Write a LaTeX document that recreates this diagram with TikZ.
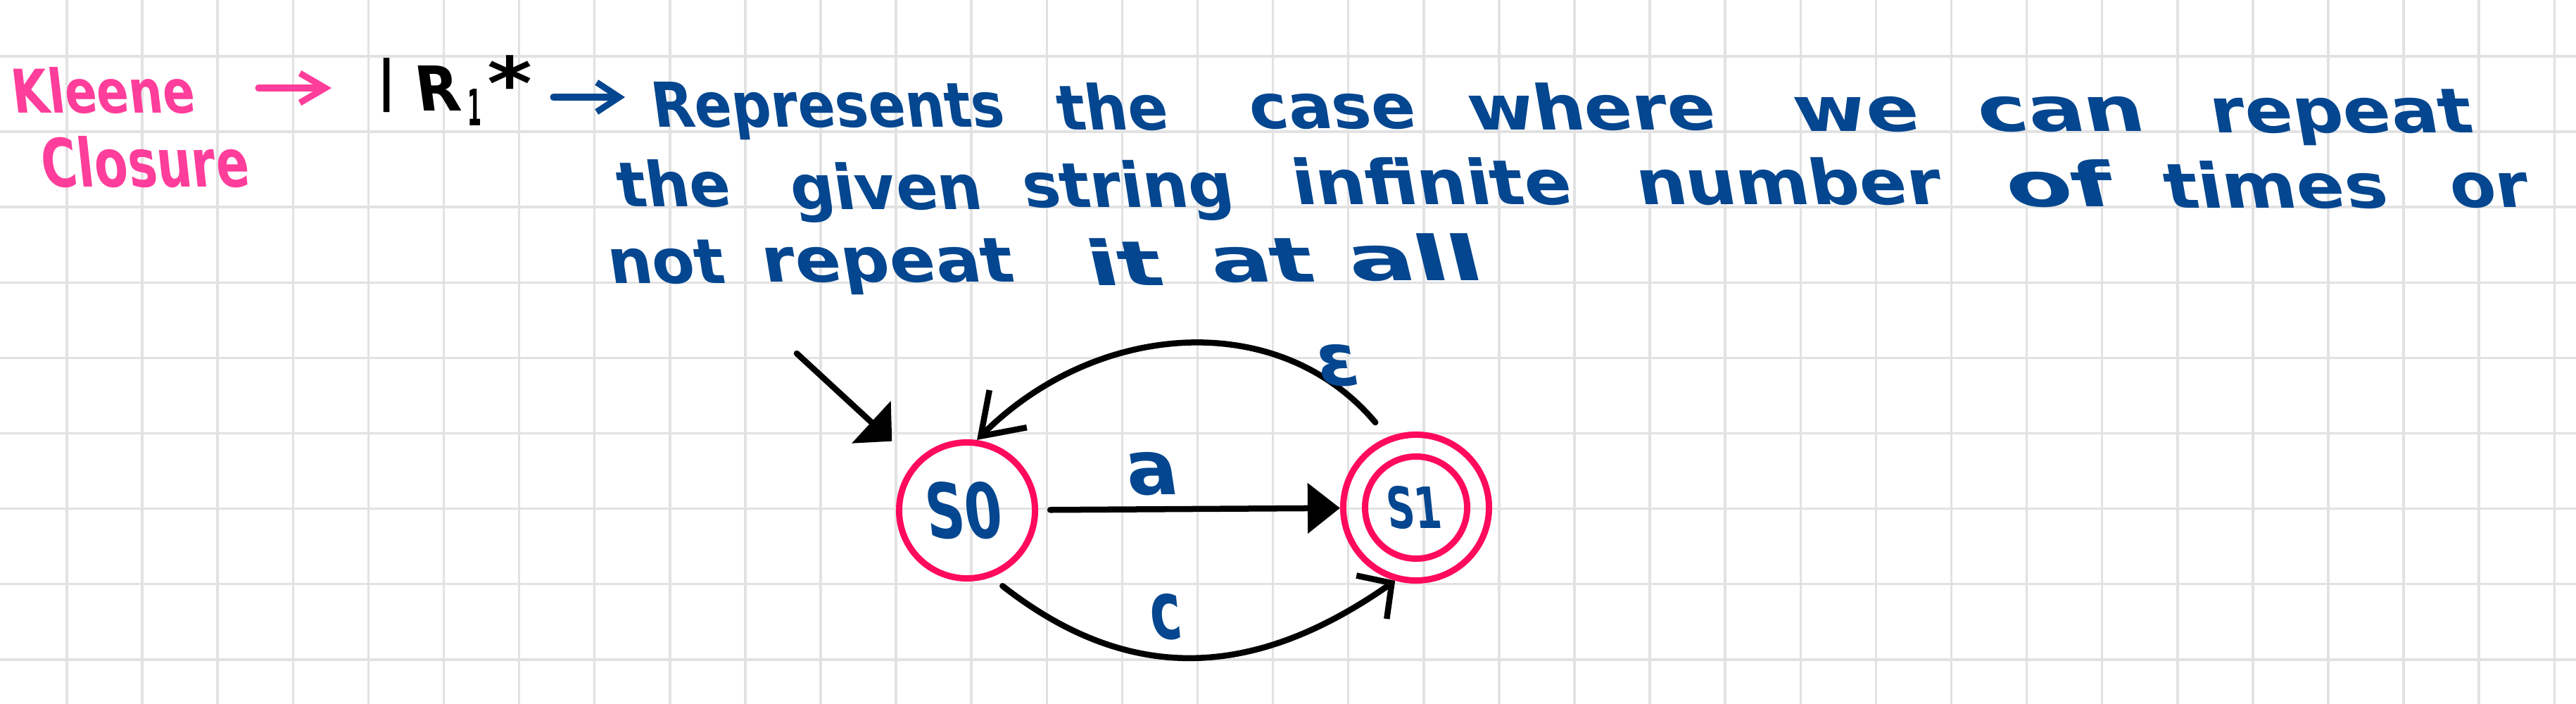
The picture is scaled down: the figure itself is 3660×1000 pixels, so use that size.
\documentclass[tikz,border=0pt]{standalone}
\usepackage{fontspec}
\usepackage{graphicx}
\usetikzlibrary{arrows.meta}
\newfontfamily\hand{DejaVu Sans}[FakeSlant=-0.15]
\newfontfamily\handup{DejaVu Sans}
\definecolor{gridC}{RGB}{226,226,226}
\definecolor{blueC}{RGB}{4,70,143}
\definecolor{pinkC}{RGB}{255,61,155}
\definecolor{stateC}{RGB}{255,10,92}
\newcommand{\fw}[2]{\resizebox{#1}{\height}{#2}}
\tikzset{
  gridline/.style={draw=gridC, line width=0.035cm},
  hand/.style={inner sep=0pt, outer sep=0pt, font=\hand\bfseries\fontsize{25}{30}\selectfont},
  handupright/.style={inner sep=0pt, outer sep=0pt, font=\handup\bfseries\fontsize{25}{30}\selectfont},
  bluetext/.style={hand, text=blueC},
  pinktext/.style={hand, text=pinkC},
  blacktext/.style={hand, text=black},
  edge/.style={draw=black, line width=0.085cm, line cap=round, line join=round},
  state/.style={circle, draw=stateC, line width=0.09cm, inner sep=0pt},
  pen/.style={line width=0.09cm, line cap=round, line join=round},
}
\begin{document}
\begin{tikzpicture}[x=0.01cm,y=0.01cm]
\useasboundingbox (0,0) rectangle (3660,-1000);
\fill[white] (0,0) rectangle (3660,-1000);
% grid
\foreach \i in {0,...,33} \draw[gridline] ({95+107.1*\i},0) -- ({95+107.1*\i},-1000);
\foreach \i in {0,...,8} \draw[gridline] (0,{-80-107.1*\i}) -- (3660,{-80-107.1*\i});

% Kleene closure
\node[pinktext, anchor=base west] (kleene) at (20,-160) {\resizebox{2.6cm}{0.65cm}{Kleene}};
\node[pinktext, anchor=base west] (closure) at (63,-265) {\resizebox{2.94cm}{0.72cm}{Closure}};
\coordinate (pa1) at (367,-125);
\coordinate (pa2) at (471,-125);
\draw[pen, draw=pinkC, -{Straight Barb[length=0.36cm,width=0.42cm]}] (pa1) -- (pa2);

% |R1*
\node[handupright, text=black, anchor=north] (bar) at (550,-83) {\resizebox*{!}{0.77cm}{|}};
\node[blacktext, anchor=base west] (rr) at (595,-157) {\resizebox{0.62cm}{0.64cm}{R}};
\node[handupright, text=black, anchor=base west] (sub) at (664,-178) {\resizebox{0.2cm}{0.52cm}{1}};
\node[handupright, text=black, anchor=north] (star) at (725,-77) {\resizebox{0.64cm}{0.46cm}{\raisebox{-0.315em}[0.445em][0pt]{*}}};
\coordinate (ba1) at (786,-138);
\coordinate (ba2) at (888,-138);
\draw[pen, draw=blueC, -{Straight Barb[length=0.32cm,width=0.42cm]}] (ba1) -- (ba2);

% line 1
\node[bluetext, anchor=base west] (w11) at (930,-180) {\fw{5.0cm}{Represents}};
\node[bluetext, anchor=base west] (w12) at (1506,-184) {\fw{1.57cm}{the}};
\node[bluetext, anchor=base west] (w13) at (1779,-182) {\fw{2.36cm}{case}};
\node[bluetext, anchor=base west] (w14) at (2091,-184) {\fw{3.51cm}{where}};
\node[bluetext, anchor=base west] (w15) at (2554,-186) {\fw{1.77cm}{we}};
\node[bluetext, anchor=base west] (w16) at (2815,-186) {\fw{2.37cm}{can}};
\node[bluetext, anchor=base west] (w17) at (3145,-188) {\fw{3.72cm}{repeat}};
% line 2
\node[bluetext, anchor=base west] (w21) at (881,-293) {\fw{1.61cm}{the}};
\node[bluetext, anchor=base west] (w22) at (1127,-297) {\fw{2.72cm}{given}};
\node[bluetext, anchor=base west] (w23) at (1457,-294) {\fw{2.99cm}{string}};
\node[bluetext, anchor=base west] (w24) at (1841,-290) {\fw{3.96cm}{infinite}};
\node[bluetext, anchor=base west] (w25) at (2330,-290) {\fw{4.33cm}{number}};
\node[bluetext, anchor=base west] (w26) at (2856,-293) {\fw{1.54cm}{of}};
\node[bluetext, anchor=base west] (w27) at (3080,-295) {\fw{3.16cm}{times}};
\node[bluetext, anchor=base west] (w28) at (3485,-294) {\fw{1.12cm}{or}};
% line 3
\node[bluetext, anchor=base west] (w31) at (868,-402) {\fw{1.65cm}{not}};
\node[bluetext, anchor=base west] (w32) at (1087,-400) {\fw{3.57cm}{repeat}};
\node[bluetext, anchor=base west] (w33) at (1551,-405) {\fw{1.07cm}{it}};
\node[bluetext, anchor=base west] (w34) at (1725,-400) {\fw{1.47cm}{at}};
\node[bluetext, anchor=base west] (w35) at (1921,-398) {\fw{1.92cm}{all}};

% automaton
\node[state, minimum size=1.93cm] (s0) at (1374,-725) {\color{blueC}\hand\bfseries\fontsize{25}{30}\selectfont\resizebox{1.09cm}{0.8cm}{S0}};
\node[state, minimum size=2.07cm] (s1) at (2012,-721) {};
\node[state, minimum size=1.45cm] (s1in) at (s1) {\color{blueC}\hand\bfseries\fontsize{25}{30}\selectfont\resizebox{0.78cm}{0.6cm}{S1}};

\coordinate (init) at (1132,-502);
\draw[edge, -{Triangle[length=0.4cm,width=0.8cm]}, shorten >=0.44cm] (init) -- (s0);
\draw[edge, -{Triangle[length=0.46cm,width=0.7cm]}, shorten <=0.17cm] (s0) -- (s1);
\draw[edge, -{Straight Barb[length=0.55cm,width=0.75cm]}, shorten <=0.27cm] (s1.112) to[out=130, in=45, looseness=1.05] (s0.82);
\draw[edge, -{Straight Barb[length=0.35cm,width=0.75cm]}, shorten <=0.2cm] (s0.290) to[out=-38, in=215, looseness=1.1] (s1.254);

\node[bluetext, anchor=base] (la) at (1642,-702) {\resizebox{0.74cm}{0.6cm}{a}};
\node[bluetext] (le) at (1905,-519) {\resizebox{0.6cm}{0.58cm}{ε}};
\node[bluetext, anchor=base] (lc) at (1660,-907) {\resizebox{0.45cm}{0.64cm}{c}};
\end{tikzpicture}
\end{document}
